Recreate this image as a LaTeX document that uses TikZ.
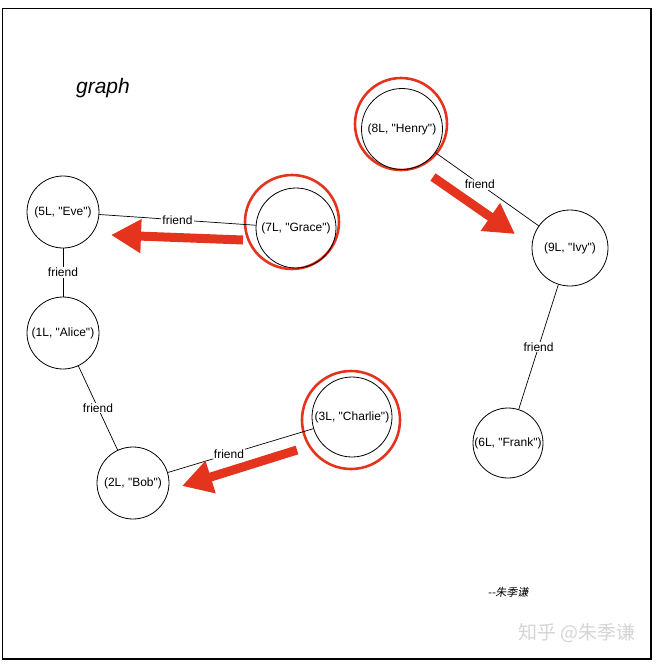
\documentclass[tikz,border=0pt]{standalone}
\usepackage{fontspec}
\setmainfont{Liberation Sans}[Ligatures=TeXOff]
\newfontfamily\cjk{Noto Sans CJK SC}
\newfontfamily\cjkslant[FakeSlant=0.2]{Noto Sans CJK SC}
\usepackage{xcolor}
\usetikzlibrary{arrows.meta}
\definecolor{markred}{RGB}{228,52,30}
\definecolor{wmgray}{RGB}{212,212,212}

\begin{document}
\begin{tikzpicture}[x=1pt, y=-1pt,
  vertex/.style={draw, circle, line width=0.8pt, inner sep=0pt, font=\fontsize{12}{14}\selectfont},
  ring/.style={draw=markred, line width=2.6pt},
  rel/.style={line width=0.7pt},
  lbl/.style={fill=white, inner sep=1pt, font=\fontsize{12}{14}\selectfont},
  push/.style={markred, line width=9pt, -{Triangle[length=30pt, width=32pt]}}]

\useasboundingbox (0,0) rectangle (656,664);

% Frame
\draw[line width=1.4pt] (2.5,8.5) rectangle (651,659);

% Title
\node[font=\itshape\fontsize{21}{24}\selectfont] (title) at (103,88) {graph};

% Highlight rings
\draw[ring] (292,222) circle (47pt);
\draw[ring] (401,124) circle (46pt);
\draw[ring] (351,420) circle (49pt);

% Vertices
\node[vertex, minimum size=72pt] (eve) at (63,212) {(5L, "Eve")};
\node[vertex, minimum size=72pt] (alice) at (63,333) {(1L, "Alice")};
\node[vertex, minimum size=72pt] (bob) at (133,483) {(2L, "Bob")};
\node[vertex, minimum size=80pt] (grace) at (296,228) {(7L, "Grace")};
\node[vertex, minimum size=80pt] (charlie) at (352,417) {(3L, "Charlie")};
\node[vertex, minimum size=81pt] (henry) at (402,129) {(8L, "Henry")};
\node[vertex, minimum size=76pt] (ivy) at (570,248) {(9L, "Ivy")};
\node[vertex, minimum size=70pt] (frank) at (508,443) {(6L, "Frank")};

% Edges
\draw[rel] (eve) -- node[lbl] {friend} (grace);
\draw[rel] (eve) -- node[lbl] {friend} (alice);
\draw[rel] (alice) -- node[lbl] {friend} (bob);
\draw[rel] (bob) -- node[lbl, pos=0.42] {friend} (charlie);
\draw[rel] (henry) -- node[lbl, pos=0.43] {friend} (ivy);
\draw[rel] (ivy) -- node[lbl] {friend} (frank);

% Red arrows
\coordinate (gt) at (243,240); \coordinate (gh) at (111,235);
\coordinate (ht) at (433,177); \coordinate (hh) at (515,234);
\coordinate (ct) at (297,450); \coordinate (ch) at (182,486);
\draw[push] (gt) -- (gh);
\draw[push] (ht) -- (hh);
\draw[push] (ct) -- (ch);

% Signature and watermark
\node[font=\cjkslant\fontsize{11}{13}\selectfont] (sign) at (508,592) {{-}{-}朱季谦};
\node[font=\cjk\fontsize{19}{22}\selectfont, text=wmgray] (mark) at (577,633) {知乎 @朱季谦};

\end{tikzpicture}
\end{document}
